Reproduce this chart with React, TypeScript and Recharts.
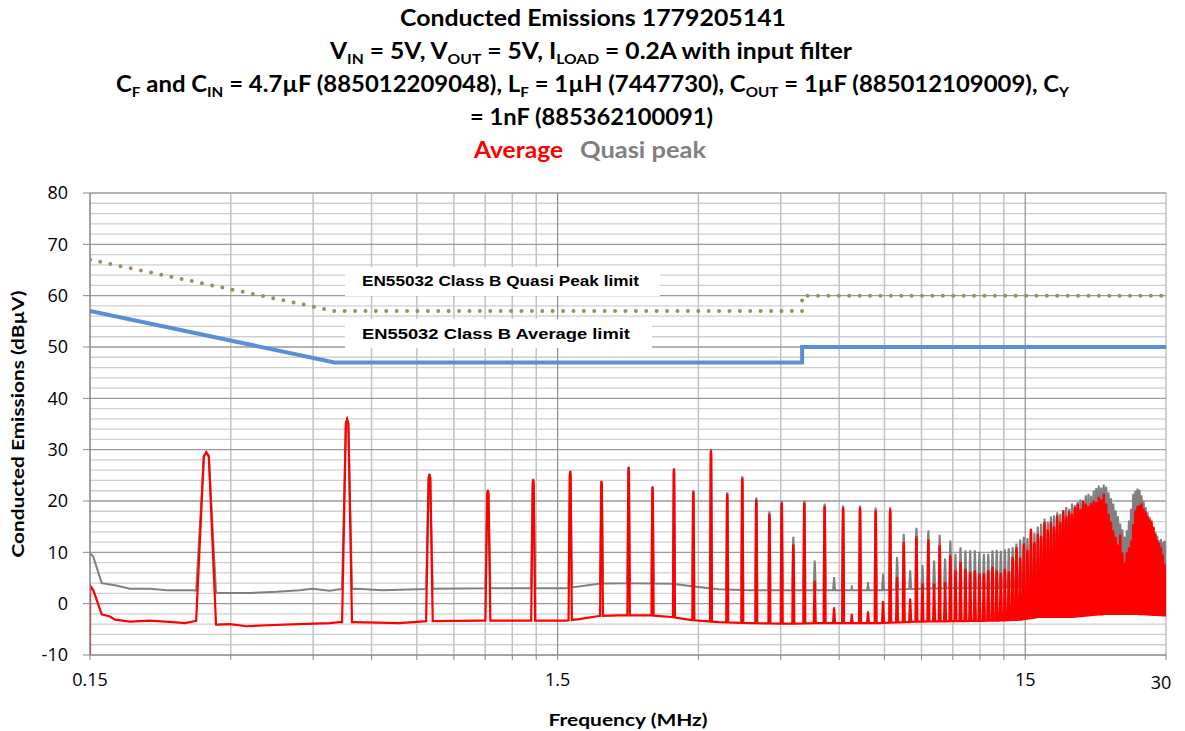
import React from 'react';
import { LineChart, Line, XAxis, YAxis, ReferenceLine } from 'recharts';

// ---------- data ----------
// switching harmonics (MHz)
const harmonicFreqs = [
  0.266, 0.532, 0.798, 1.064, 1.33, 1.596, 1.862, 2.128, 2.394, 2.66,
  2.926, 3.192, 3.458, 3.724, 3.99, 4.256, 4.522, 4.788, 5.054, 5.32,
  5.586, 5.852, 6.118, 6.384, 6.65, 6.916, 7.182, 7.448, 7.714, 7.98,
  8.246, 8.512, 8.778, 9.044, 9.31, 9.576, 9.842, 10.108, 10.374, 10.64,
  10.906, 11.172, 11.438, 11.704, 11.97, 12.236, 12.502, 12.768, 13.034, 13.3,
  13.566, 13.832, 14.098, 14.364, 14.63, 14.896, 15.162, 15.428, 15.694, 15.96,
  16.226, 16.492, 16.758, 17.024, 17.29, 17.556, 17.822, 18.088, 18.354, 18.62,
  18.886, 19.152, 19.418, 19.684, 19.95, 20.216, 20.482, 20.748, 21.014, 21.28,
  21.546, 21.812, 22.078, 22.344, 22.61, 22.876, 23.142, 23.408, 23.674, 23.94,
  24.206, 24.472, 24.738, 25.004, 25.27, 25.536, 25.802, 26.068, 26.334, 26.6,
  26.866, 27.132, 27.398, 27.664, 27.93, 28.196, 28.462, 28.728, 28.994, 29.26,
  29.526, 29.792,
];

// Average detector peak at each harmonic (dBµV)
const avgPeaks = [
  29.5, 35.9, 25.2, 22.1, 24.2, 25.8, 23.9, 26.6, 22.7, 26.2,
  21.9, 29.9, 21.4, 24.5, 20.3, 17.5, 19.7, 11.5, 19.7, 4.4,
  19.0, -0.7, 18.7, -2.0, 18.7, -1.5, 18.2, 0.5, 18.4, 5.2,
  12.0, 1.0, 13.1, 3.9, 12.5, 3.9, 11.4, 4.2, 9.4, 6.5,
  8.1, 6.8, 6.2, 6.5, 5.9, 5.9, 6.5, 7.2, 6.5, 6.0,
  6.8, 6.3, 9.1, 11.0, 9.0, 11.7, 10.5, 14.6, 12.0, 13.6,
  13.2, 15.9, 14.5, 15.9, 15.0, 17.2, 16.0, 18.2, 17.0, 18.0,
  17.5, 18.8, 19.5, 18.5, 20.1, 19.5, 19.0, 19.6, 20.1, 19.8,
  20.8, 20.3, 21.4, 19.5, 17.5, 16.0, 14.3, 13.0, 11.5, 13.5,
  10.0, 8.0, 10.0, 11.0, 12.3, 15.5, 18.2, 19.0, 19.2, 19.5,
  18.5, 18.0, 17.0, 16.5, 16.2, 15.0, 13.6, 12.5, 11.8, 11.0,
  9.5, 7.8,
];

// Quasi-peak detector peak at each harmonic (dBµV)
const qpPeaks = [
  29.5, 35.9, 25.3, 22.2, 24.3, 25.9, 24.0, 26.7, 22.9, 26.4,
  22.1, 30.0, 21.7, 24.8, 20.7, 18.0, 20.1, 13.0, 20.1, 8.4,
  19.5, 5.2, 19.1, 3.6, 19.1, 4.2, 18.7, 5.8, 18.8, 9.1,
  13.6, 6.5, 14.8, 7.5, 14.3, 8.4, 13.4, 8.8, 12.3, 9.7,
  11.0, 10.4, 10.4, 10.4, 10.1, 9.7, 9.7, 10.4, 10.5, 10.3,
  10.6, 10.8, 11.0, 11.7, 12.5, 13.0, 12.8, 14.5, 13.8, 15.0,
  15.6, 16.6, 16.0, 17.0, 17.2, 17.8, 17.5, 18.2, 18.8, 18.5,
  19.5, 19.2, 19.8, 20.3, 20.0, 21.1, 21.4, 21.0, 22.1, 22.5,
  23.0, 22.6, 23.2, 22.8, 21.7, 20.5, 19.5, 18.2, 17.0, 15.6,
  14.5, 13.0, 14.3, 16.2, 18.5, 21.4, 22.0, 22.4, 22.2, 21.1,
  20.0, 18.8, 17.8, 16.9, 15.8, 14.8, 14.0, 13.2, 12.3, 12.6,
  12.0, 12.3,
];

// noise floor between harmonics: [MHz, dBµV]
const avgFloor: [number, number][] = [
  [0.15, -10], [0.1501, 3.5], [0.1525, 2.6], [0.1589, -2.1], [0.1655, -2.5],
  [0.1696, -3.1], [0.1826, -3.5], [0.2015, -3.3], [0.2256, -3.6], [0.2393, -3.8],
  [0.2538, -3.3], [0.28, -4.1], [0.2985, -4.0], [0.3245, -4.4], [0.3581, -4.2],
  [0.421, -4.0], [0.488, -3.8], [0.5126, -3.6], [0.5517, -3.6], [0.6882, -3.8],
  [0.7861, -3.4], [1.0352, -3.3], [1.564, -3.3], [1.667, -3.0], [1.839, -2.4],
  [2.029, -2.3], [2.386, -2.3], [2.633, -2.6], [2.905, -3.2], [3.318, -3.6],
  [3.903, -3.8], [4.611, -3.9], [5.424, -3.8], [7.284, -3.8], [8.865, -3.5],
  [13.13, -3.3], [14.71, -3.1], [15.99, -2.6], [18.81, -2.6], [20.45, -2.3],
  [22.23, -2.0], [26.14, -2.0], [30, -2.3],
];

const qpFloor: [number, number][] = [
  [0.15, 9.9], [0.1525, 9.1], [0.1589, 4.0], [0.1696, 3.6], [0.1826, 2.9],
  [0.2015, 2.9], [0.219, 2.6], [0.2489, 2.6], [0.2842, 2.1], [0.3293, 2.1],
  [0.3761, 2.3], [0.421, 2.6], [0.4488, 2.9], [0.488, 2.5], [0.5126, 2.8],
  [0.559, 2.9], [0.6333, 2.6], [0.6882, 2.7], [0.8096, 2.9], [1.1251, 3.0],
  [1.564, 3.0], [1.839, 3.9], [2.131, 4.0], [2.633, 3.9], [2.905, 3.4],
  [3.318, 2.8], [3.903, 2.6], [5.424, 2.6], [7.284, 2.6], [8.865, 2.9],
  [10.27, 3.0], [13.13, 3.0], [16.0, 3.5], [20.0, 4.0], [30, 4.0],
];

// EN55032 class B limits
const qpLimitFreqs = [0.15, 0.5, 5, 5, 30];
const qpLimitValues = [67, 57, 57, 60, 60];
const avgLimitFreqs = [0.15, 0.5, 5, 5, 30];
const avgLimitValues = [57, 47, 47, 50, 50];

const xTickLabels = [0.15, 1.5, 15, 30];
const xMajorGrid = [0.15, 1.5, 15];
const xGridFreqs = [
  0.15, 0.3, 0.45, 0.6, 0.75, 0.9, 1.05, 1.2, 1.35,
  1.5, 3, 4.5, 6, 7.5, 9, 10.5, 12, 13.5,
  15, 30,
];
const yTicks = [-10, 0, 10, 20, 30, 40, 50, 60, 70, 80];
const yMinorGrid = [
  -8, -6, -4, -2, 2, 4, 6, 8, 12, 14, 16, 18, 22, 24, 26, 28, 32, 34, 36, 38,
  42, 44, 46, 48, 52, 54, 56, 58, 62, 64, 66, 68, 72, 74, 76, 78,
];

// ---------- build series ----------
// half width of a harmonic line at its base (MHz): resolution bandwidth,
// widening slightly with frequency as the lines broaden
const spikeHalf = (h: number) => Math.max(0.013, h * 0.005);

function floorAt(floor: [number, number][], f: number): number {
  for (let i = 0; i < floor.length - 1; i++) {
    const [f0, v0] = floor[i];
    const [f1, v1] = floor[i + 1];
    if (f >= f0 && f <= f1) {
      const t = (Math.log(f) - Math.log(f0)) / (Math.log(f1) - Math.log(f0) || 1);
      return v0 + (v1 - v0) * t;
    }
  }
  return floor[floor.length - 1][1];
}

function buildSpectrum(floor: [number, number][], peaks: number[]) {
  const pts: { f: number; v: number }[] = [];
  floor.forEach(([f, v]) => {
    if (!harmonicFreqs.some((h) => Math.abs(f - h) <= spikeHalf(h))) pts.push({ f, v });
  });
  harmonicFreqs.forEach((h, i) => {
    const w = spikeHalf(h);
    const p = peaks[i];
    const bl = floorAt(floor, h - w);
    const br = floorAt(floor, Math.min(h + w, 30));
    pts.push(
      { f: h - w, v: bl },
      { f: h - w * 0.25, v: Math.max(bl, p - 0.8) },
      { f: h, v: p },
      { f: h + w * 0.25, v: Math.max(br, p - 0.8) },
      { f: Math.min(h + w, 30), v: br },
    );
  });
  pts.sort((a, b) => a.f - b.f);
  return pts;
}

const avgData = buildSpectrum(avgFloor, avgPeaks);
const qpData = buildSpectrum(qpFloor, qpPeaks);
const qpLimitData = qpLimitFreqs.map((f, i) => ({ f, v: qpLimitValues[i] }));
const avgLimitData = avgLimitFreqs.map((f, i) => ({ f, v: avgLimitValues[i] }));

// ---------- rendering ----------
const W = 1185;
const H = 731;
const TITLE_FONT = "Lato, 'Open Sans', sans-serif";
const LABEL_FONT = "'Liberation Sans', Arial, sans-serif";
const TICK_FONT = "'Open Sans', sans-serif";

const XTick = (props: any) => {
  const { x, y, payload } = props;
  const v = payload.value;
  if (!xTickLabels.includes(v)) return null;
  const isLast = v === 30;
  return (
    <text
      x={x + (isLast ? -5 : 0)}
      y={y + (isLast ? 27 : 24)}
      textAnchor="middle"
      fontFamily={TICK_FONT}
      fontSize={18}
      fill="#000"
    >
      {String(v)}
    </text>
  );
};

export default function App() {
  return (
    <div style={{ position: 'absolute', left: 0, top: 0, width: W, height: H, background: '#fff' }}>
      <LineChart
        width={W}
        height={H}
        margin={{ top: 193, right: 19, bottom: 0, left: 0 }}
      >
        <XAxis
          dataKey="f"
          type="number"
          scale="log"
          domain={[0.15, 30]}
          allowDataOverflow
          ticks={xGridFreqs}
          interval={0}
          height={76}
          tick={<XTick />}
          tickSize={5}
          axisLine={{ stroke: '#868686', strokeWidth: 1.5 }}
          tickLine={{ stroke: '#868686' }}
        />
        <YAxis
          type="number"
          domain={[-10, 80]}
          ticks={yTicks}
          interval={0}
          width={90}
          tickSize={7}
          tickMargin={15}
          axisLine={{ stroke: '#868686', strokeWidth: 1.5 }}
          tickLine={{ stroke: '#868686' }}
          tick={{ fill: '#000', fontSize: 18, fontFamily: TICK_FONT }}
        />
        {yMinorGrid.map((v) => (
          <ReferenceLine key={'hy' + v} y={v} stroke="#cfcfcf" strokeWidth={1.3} />
        ))}
        {xGridFreqs.filter((f) => !xMajorGrid.includes(f)).map((f) => (
          <ReferenceLine key={'vx' + f} x={f} stroke="#c2c2c2" strokeWidth={1.5} />
        ))}
        {yTicks.filter((v) => v !== -10).map((v) => (
          <ReferenceLine key={'my' + v} y={v} stroke="#9a9a9a" strokeWidth={1.3} />
        ))}
        {xMajorGrid.filter((f) => f !== 0.15).map((f) => (
          <ReferenceLine key={'mx' + f} x={f} stroke="#8e8e8e" strokeWidth={1.2} />
        ))}
        <Line
          data={qpData}
          dataKey="v"
          type="linear"
          stroke="#808080"
          strokeWidth={2}
          dot={false}
          activeDot={false}
          isAnimationActive={false}
        />
        <Line
          data={avgData}
          dataKey="v"
          type="linear"
          stroke="#ff0000"
          strokeWidth={2.2}
          dot={false}
          activeDot={false}
          isAnimationActive={false}
        />
        <Line
          data={qpLimitData}
          dataKey="v"
          type="linear"
          stroke="#9b8f5b"
          strokeWidth={4}
          strokeDasharray="0 10.4"
          strokeLinecap="round"
          dot={false}
          activeDot={false}
          isAnimationActive={false}
        />
        <Line
          data={avgLimitData}
          dataKey="v"
          type="linear"
          stroke="#5a8fd6"
          strokeWidth={4}
          dot={false}
          activeDot={false}
          isAnimationActive={false}
        />
      </LineChart>

      <svg
        width={W}
        height={H}
        style={{ position: 'absolute', left: 0, top: 0, pointerEvents: 'none' }}
      >
        {/* limit labels */}
        <rect x={345} y={267} width={315} height={29} fill="#fff" />
        <text x={362} y={286} fontFamily={LABEL_FONT} fontWeight="bold" fontSize={15}
          textLength={277} lengthAdjust="spacingAndGlyphs" fill="#000">
          EN55032 Class B Quasi Peak limit
        </text>
        <rect x={345} y={319} width={307} height={29} fill="#fff" />
        <text x={362} y={339} fontFamily={LABEL_FONT} fontWeight="bold" fontSize={15}
          textLength={268} lengthAdjust="spacingAndGlyphs" fill="#000">
          EN55032 Class B Average limit
        </text>

        {/* title */}
        <g fontFamily={TITLE_FONT} fontWeight="bold" fontSize={22} fill="#000">
          <text x={400} y={26} textLength={386} lengthAdjust="spacingAndGlyphs">
            Conducted Emissions 1779205141
          </text>
          <text x={330} y={59} textLength={522} lengthAdjust="spacingAndGlyphs">
            <tspan>V</tspan>
            <tspan fontSize={14} dy={5}>IN</tspan>
            <tspan dy={-5}> = 5V, V</tspan>
            <tspan fontSize={14} dy={5}>OUT</tspan>
            <tspan dy={-5}> = 5V, I</tspan>
            <tspan fontSize={14} dy={5}>LOAD</tspan>
            <tspan dy={-5}> = 0.2A with input filter</tspan>
          </text>
          <text x={116} y={92} textLength={953} lengthAdjust="spacingAndGlyphs">
            <tspan>C</tspan>
            <tspan fontSize={14} dy={5}>F</tspan>
            <tspan dy={-5}> and C</tspan>
            <tspan fontSize={14} dy={5}>IN</tspan>
            <tspan dy={-5}> = 4.7µF (885012209048), L</tspan>
            <tspan fontSize={14} dy={5}>F</tspan>
            <tspan dy={-5}> = 1µH (7447730), C</tspan>
            <tspan fontSize={14} dy={5}>OUT</tspan>
            <tspan dy={-5}> = 1µF (885012109009), C</tspan>
            <tspan fontSize={14} dy={5}>Y</tspan>
          </text>
          <text x={470} y={125} textLength={243} lengthAdjust="spacingAndGlyphs">
            = 1nF (885362100091)
          </text>
          <text x={474} y={158} fill="#ff0000" textLength={89} lengthAdjust="spacingAndGlyphs">
            Average
          </text>
          <text x={580} y={158} fill="#808080" textLength={126} lengthAdjust="spacingAndGlyphs">
            Quasi peak
          </text>
        </g>

        {/* axis titles */}
        <text
          x={0}
          y={0}
          transform="translate(24 424) rotate(-90)"
          textAnchor="middle"
          fontFamily={TITLE_FONT}
          fontWeight="bold"
          fontSize={17}
          textLength={267}
          lengthAdjust="spacingAndGlyphs"
          fill="#000"
        >
          Conducted Emissions (dBµV)
        </text>
        <text
          x={628}
          y={726}
          textAnchor="middle"
          fontFamily={TITLE_FONT}
          fontWeight="bold"
          fontSize={17}
          textLength={159}
          lengthAdjust="spacingAndGlyphs"
          fill="#000"
        >
          Frequency (MHz)
        </text>
      </svg>
    </div>
  );
}
